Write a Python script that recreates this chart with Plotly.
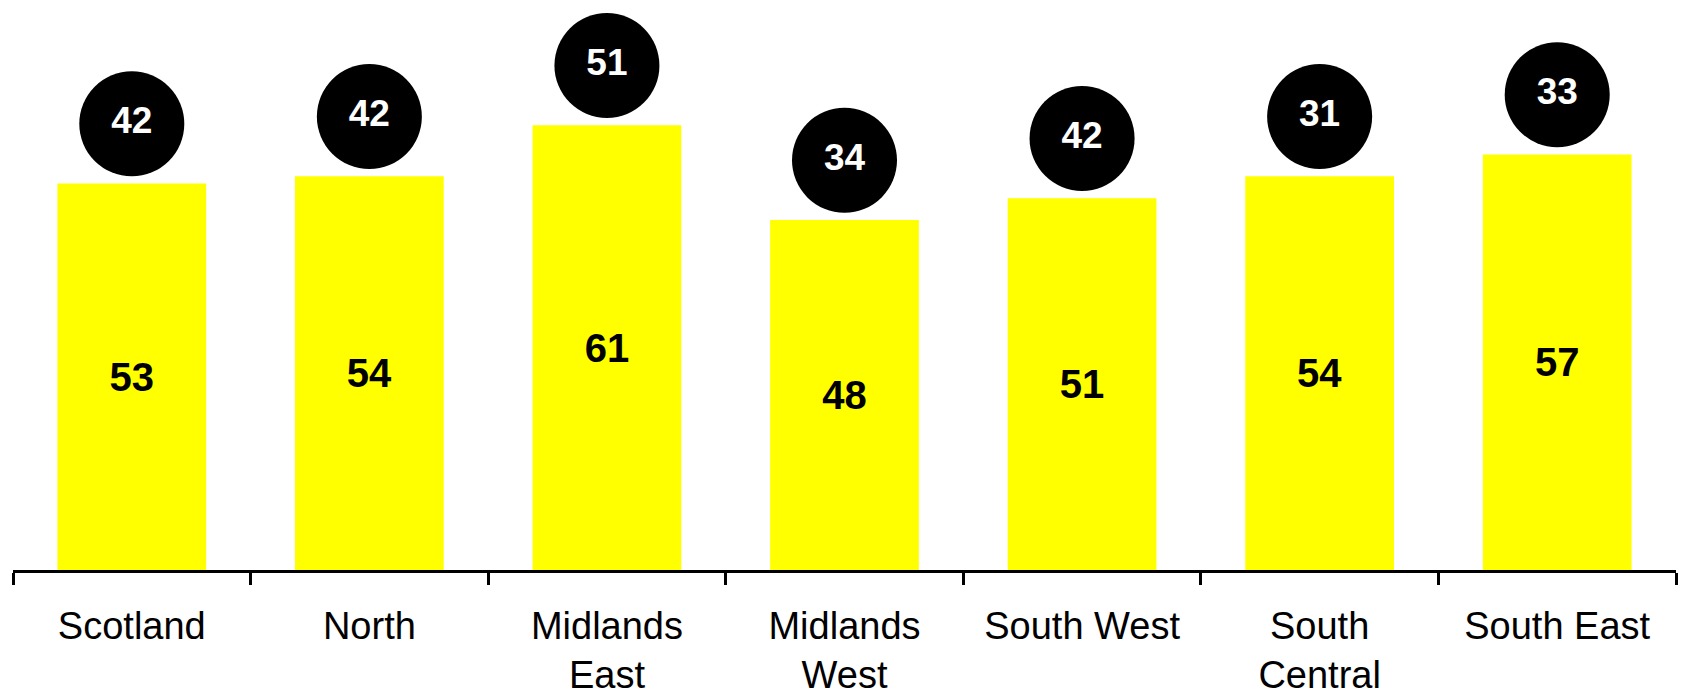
import plotly.graph_objects as go

# Regions along the x axis
regions = ["Scotland", "North", "Midlands<br>East", "Midlands<br>West",
           "South West", "South<br>Central", "South East"]
# Main measure shown as the yellow bars
bar_values = [53, 54, 61, 48, 51, 54, 57]
# Secondary measure shown in the black badges above each bar
badge_values = [42, 42, 51, 34, 42, 31, 33]

FONT = "Liberation Sans, Arial, sans-serif"
BADGE_LIFT = 8.2  # badge centre sits this many units above the bar top

fig = go.Figure()

fig.add_trace(go.Bar(
    x=regions,
    y=bar_values,
    width=0.626,
    marker=dict(color="#FFFF00", line=dict(width=0)),
    text=bar_values,
    texttemplate="%{text}",
    textposition="inside",
    insidetextanchor="middle",
    textangle=0,
    textfont=dict(family=FONT, size=40, color="#000000", weight="bold"),
    hoverinfo="skip",
))

fig.add_trace(go.Scatter(
    x=regions,
    y=[v + BADGE_LIFT for v in bar_values],
    mode="markers+text",
    marker=dict(size=105, color="#000000", line=dict(width=0)),
    text=badge_values,
    textposition="middle center",
    textfont=dict(family=FONT, size=37, color="#FFFFFF", weight="bold"),
    cliponaxis=False,
    hoverinfo="skip",
))

fig.update_layout(
    width=1681,
    height=697,
    margin=dict(l=13, r=5, t=30, b=127, autoexpand=False),
    paper_bgcolor="#FFFFFF",
    plot_bgcolor="#FFFFFF",
    showlegend=False,
    bargap=0.374,
    xaxis=dict(
        type="category",
        automargin=False,
        showline=True,
        linecolor="#000000",
        linewidth=3,
        ticks="outside",
        tickson="boundaries",
        ticklen=12,
        tickwidth=3,
        tickcolor="#000000",
        showgrid=False,
        zeroline=False,
        tickfont=dict(family=FONT, size=38, color="#000000"),
        ticklabelstandoff=20,
        range=[-0.5, 6.5],
    ),
    yaxis=dict(
        range=[0, 74.07],
        visible=False,
        automargin=False,
        showgrid=False,
        zeroline=False,
    ),
)

fig.write_html("out.html")
